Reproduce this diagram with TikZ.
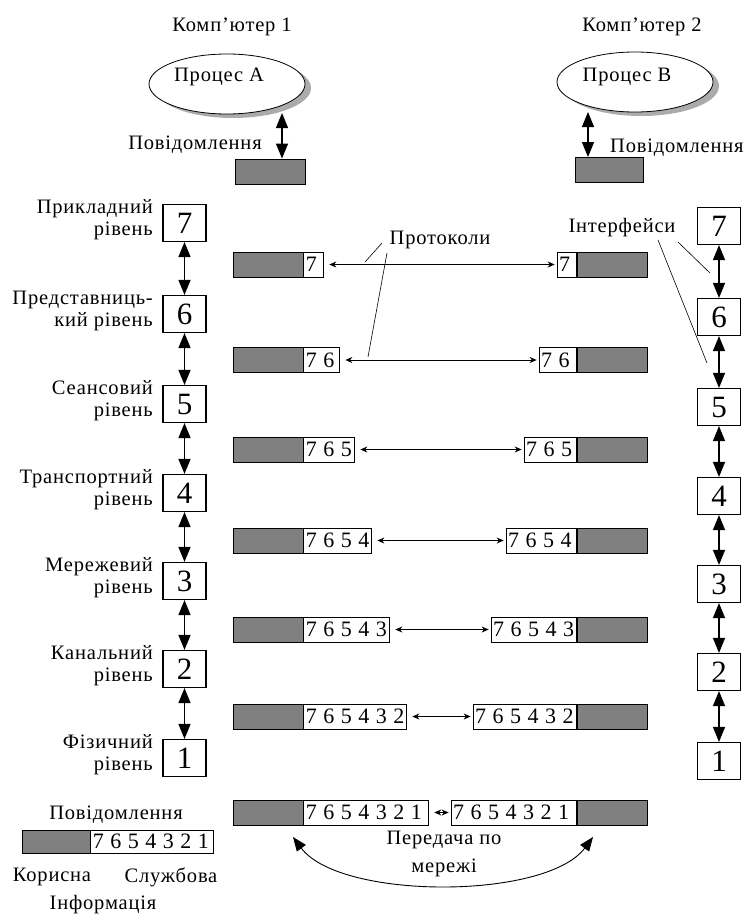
\documentclass[tikz,border=0pt]{standalone}
\usepackage{fontspec}
\setmainfont{Liberation Serif}
\newfontfamily\lblface[LetterSpace=4]{Liberation Serif}
\usetikzlibrary{arrows.meta,shapes.geometric,shadows}

\definecolor{pdugrey}{RGB}{128,128,128}
\definecolor{shadowgrey}{RGB}{150,150,150}

\newcommand\lblsize{\lblface\fontsize{20.5}{22}\selectfont}
\newcommand\dgap{\hspace{6.5pt}}

\begin{document}
\begin{tikzpicture}[x=1pt,y=-1pt,
  lbl/.style={font=\lblsize, inner sep=0pt},
  layerbox/.style={draw, line width=1.1pt, minimum width=43pt, minimum height=37pt,
    inner sep=0pt, font=\fontsize{31}{31}\selectfont},
  payload/.style={draw, line width=0.9pt, fill=pdugrey, minimum width=70pt,
    minimum height=25pt, inner sep=0pt},
  hdr/.style={draw, line width=0.9pt, fill=white, minimum height=25pt,
    inner xsep=2pt, inner ysep=0pt, text width=#1, align=left,
    font=\fontsize{22}{22}\selectfont},
  process/.style={ellipse, draw, line width=0.8pt, fill=white, minimum width=156pt,
    minimum height=60pt, inner sep=0pt,
    drop shadow={shadow xshift=6pt, shadow yshift=-4pt, fill=shadowgrey, opacity=0.8}},
  stackarrow/.style={line width=1.3pt,
    {Triangle[width=12pt,length=15pt]}-{Triangle[width=12pt,length=15pt]}},
  pduarrow/.style={line width=0.9pt, shorten <=5pt, shorten >=2pt,
    {Stealth[width=6pt,length=7pt]}-{Stealth[width=6pt,length=7pt]}},
  netarrow/.style={line width=0.9pt,
    {Triangle[width=11pt,length=14pt]}-{Triangle[width=11pt,length=14pt]}},
  pointer/.style={line width=0.6pt}
]
\useasboundingbox (0,0) rectangle (747,916);

% computers and processes
\node[lbl] (compA) at (232,27) {Комп’ютер 1};
\node[lbl] (compB) at (642,27) {Комп’ютер 2};
\node[process] (procA) at (227,84) {};
\node[process] (procB) at (635,82) {};
\node[lbl] (procAtxt) at (219,77) {Процес А};
\node[lbl] (procBtxt) at (627,77) {Процес В};

% application messages
\node[payload] (msgA) at (270,171.5) {};
\node[payload, minimum width=68pt] (msgB) at (609,170) {};
\node[lbl] (msgAtxt) at (195,145) {Повідомлення};
\node[lbl, anchor=west] (msgBtxt) at (610,148) {Повідомлення};
\coordinate (aTop) at (282,113);
\coordinate (bTop) at (588,112);
\draw[stackarrow] (aTop) -- (aTop |- msgA.north);
\draw[stackarrow] (bTop) -- (bTop |- msgB.north);

% layer stacks
\foreach \n/\y/\t in {7/223/{Прикладний\\рівень},
                      6/314/{Представниць-\\кий рівень},
                      5/404/{Сеансовий\\рівень},
                      4/493/{Транспортний\\рівень},
                      3/581/{Мережевий\\рівень},
                      2/669/{Канальний\\рівень},
                      1/758/{Фізичний\\рівень}} {
  \node[layerbox] (L\n) at (184.5,\y) {\n};
  \node[layerbox] (R\n) at (719,\y+3) {\n};
  \node[lbl, anchor=east, align=right] (LL\n) at (153,\y-3) {\t};
}
\foreach \a/\b in {7/6,6/5,5/4,4/3,3/2,2/1} {
  \draw[stackarrow] (L\a) -- (L\b);
  \draw[stackarrow] (R\a) -- (R\b);
}

% protocol data units exchanged at each layer
\foreach \n/\y/\tl/\tr/\d in {7/264.5/16/15/{7},
                              6/360/32/33/{7\dgap6},
                              5/449.5/47/48/{7\dgap6\dgap5},
                              4/540.5/64/66/{7\dgap6\dgap5\dgap4},
                              3/629.5/82/81/{7\dgap6\dgap5\dgap4\dgap3},
                              2/716.5/99/99/{7\dgap6\dgap5\dgap4\dgap3\dgap2},
                              1/812.5/121/121/{7\dgap6\dgap5\dgap4\dgap3\dgap2\dgap1}} {
  \node[payload] (pl\n) at (268,\y) {};
  \node[hdr=\tl pt, anchor=west] (hl\n) at (pl\n.east) {\d};
  \node[payload] (pr\n) at (612,\y) {};
  \node[hdr=\tr pt, anchor=east] (hr\n) at (pr\n.west) {\d};
  \draw[pduarrow] (hl\n.east) -- (hr\n.west);
}

% callouts
\node[lbl] (prot) at (440,240) {Протоколи};
\node[lbl] (iface) at (622,228) {Інтерфейси};
\coordinate (prA) at (382,243);
\coordinate (prAend) at (365,262);
\coordinate (prB) at (387,253);
\coordinate (prBend) at (368,357);
\draw[pointer] (prA) -- (prAend);
\draw[pointer] (prB) -- (prBend);
\coordinate (ifA) at (678,242);
\coordinate (ifAend) at (710,273);
\coordinate (ifB) at (658,240);
\coordinate (ifBend) at (707,363);
\draw[pointer] (ifA) -- (ifAend);
\draw[pointer] (ifB) -- (ifBend);

% transmission over the network
\coordinate (netL) at (293,837);
\coordinate (netR) at (593,837);
\draw[netarrow] (netL) .. controls (340,900) and (546,900) .. (netR);
\node[lbl, align=center, font=\lblface\fontsize{20.5}{28}\selectfont] (nettxt) at (444,854) {Передача по\\мережі};

% legend of the message format
\node[lbl] (legtitle) at (116,815) {Повідомлення};
\node[payload, minimum width=68pt, minimum height=23pt] (legpay) at (56,841.5) {};
\node[hdr=119pt, minimum height=23pt, anchor=west] (leghdr) at (legpay.east) {7\dgap6\dgap5\dgap4\dgap3\dgap2\dgap1};
\node[lbl] (legpayl) at (52,877) {Корисна};
\node[lbl] (leghdrl) at (171,877) {Службова};
\node[lbl] (leginfo) at (103,905) {Інформація};
\end{tikzpicture}
\end{document}
